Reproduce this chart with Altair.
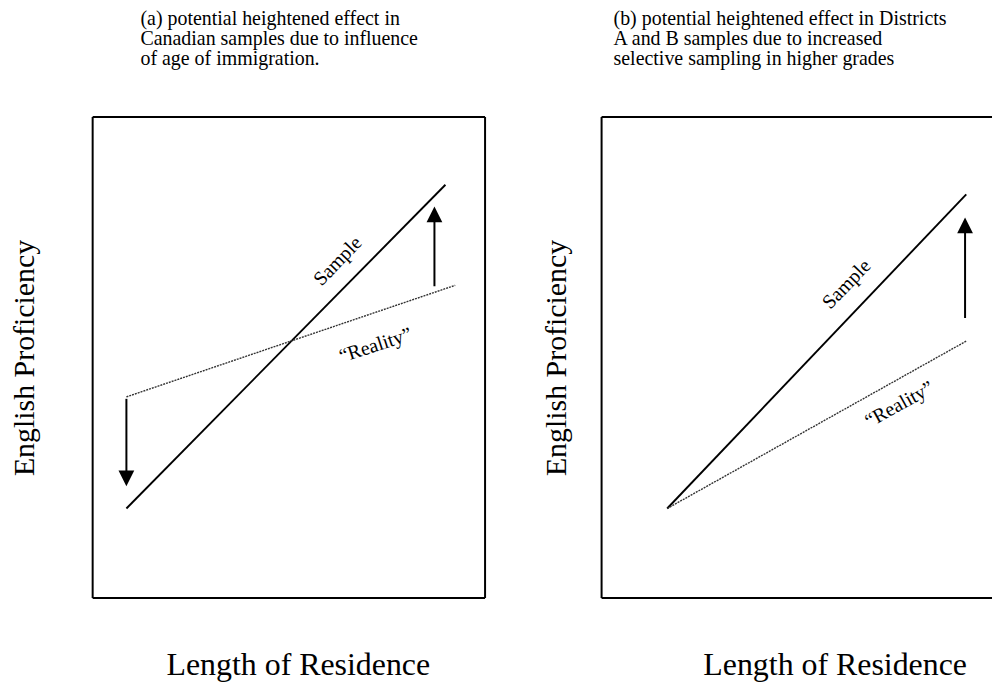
import altair as alt
import pandas as pd

FONT = "Liberation Serif"

# ---------------- Panel (a) ----------------
a_title = ["(a) potential heightened effect in",
           "Canadian samples due to influence",
           "of age of immigration."]
a_sample_x = [8.6, 89.9]
a_sample_y = [18.6, 85.9]
a_reality_x = [8.6, 92.4]
a_reality_y = [41.8, 65.0]
a_arrow_dir = ["down", "up"]
a_arrow_x = [8.6, 87.1]
a_arrow_from = [41.4, 64.8]
a_arrow_base = [26.3, 78.3]
a_arrow_tip = [23.2, 81.4]
a_label_text = ["Sample", "\u201cReality\u201d"]
a_label_x = [62.5, 72.1]
a_label_y = [70.0, 52.5]
a_label_angle = [314, 342]

# ---------------- Panel (b) ----------------
b_title = ["(b) potential heightened effect in Districts",
           "A and B samples due to increased",
           "selective sampling in higher grades"]
b_sample_x = [16.8, 93.4]
b_sample_y = [18.6, 83.9]
b_reality_x = [16.8, 93.4]
b_reality_y = [18.6, 53.4]
b_arrow_dir = ["up"]
b_arrow_x = [93.1]
b_arrow_from = [58.2]
b_arrow_base = [76.2]
b_arrow_tip = [79.1]
b_label_text = ["Sample", "\u201cReality\u201d"]
b_label_x = [62.8, 76.3]
b_label_y = [65.2, 40.2]
b_label_angle = [314, 331]

x_title = "Length of Residence"
y_title = "English Proficiency"

UP = "M0,0L-0.5,1L0.5,1Z"
DOWN = "M0,0L-0.5,-1L0.5,-1Z"


def panel(W, H, title, title_dx, sx, sy, rx, ry, adir, ax, afrom, abase, atip,
          ltext, lx, ly, langle, ytitle_pad, xtitle_x, right_border):
    xs = alt.Scale(domain=[0, 100], nice=False, zero=False)
    ys = alt.Scale(domain=[0, 100], nice=False, zero=False)
    xaxis = alt.Axis(title=x_title, labels=False, ticks=False, domain=False, grid=False,
                     titleFont=FONT, titleFontSize=32, titleFontWeight="normal",
                     titleColor="black", titlePadding=52, titleX=xtitle_x)
    yaxis = alt.Axis(title=y_title, labels=False, ticks=False, domain=False, grid=False,
                     titleFont=FONT, titleFontSize=30, titleFontWeight="normal",
                     titleColor="black", titlePadding=ytitle_pad)

    sample = pd.DataFrame({"x": sx, "y": sy})
    reality = pd.DataFrame({"x": rx, "y": ry})
    arrows = pd.DataFrame({"dir": adir, "x": ax, "y": afrom, "y2": abase, "tip": atip})
    labels = pd.DataFrame({"t": ltext, "x": lx, "y": ly, "ang": langle})

    enc = dict(x=alt.X("x:Q", scale=xs, axis=xaxis), y=alt.Y("y:Q", scale=ys, axis=yaxis))

    l_sample = alt.Chart(sample).mark_line(color="black", strokeWidth=1.9).encode(**enc)
    l_real = alt.Chart(reality).mark_line(color="#333333", strokeWidth=1.4,
                                          strokeDash=[2, 1]).encode(**enc)
    shaft = alt.Chart(arrows).mark_rule(color="black", strokeWidth=2).encode(
        **enc, y2="y2:Q")
    heads = []
    for d, path in (("up", UP), ("down", DOWN)):
        if d in adir:
            heads.append(alt.Chart(arrows).transform_filter(alt.datum.dir == d)
                         .mark_point(shape=path, size=1000, filled=True, color="black",
                                     opacity=1, strokeWidth=0)
                         .encode(x=alt.X("x:Q", scale=xs, axis=xaxis),
                                 y=alt.Y("tip:Q", scale=ys, axis=yaxis)))
    texts = []
    for i in range(len(ltext)):
        texts.append(alt.Chart(labels.iloc[[i]]).mark_text(
            font=FONT, fontSize=20, color="black", angle=langle[i],
            align="center", baseline="middle").encode(**enc, text="t:N"))

    frame = pd.DataFrame({"k": [0]})
    borders = [
        alt.Chart(frame).mark_rule(color="black", strokeWidth=2).encode(
            x=alt.value(0), x2=alt.value(W), y=alt.value(0)),
        alt.Chart(frame).mark_rule(color="black", strokeWidth=2).encode(
            x=alt.value(0), x2=alt.value(W), y=alt.value(H)),
        alt.Chart(frame).mark_rule(color="black", strokeWidth=2).encode(
            x=alt.value(0), y=alt.value(0), y2=alt.value(H)),
    ]
    if right_border:
        borders.append(alt.Chart(frame).mark_rule(color="black", strokeWidth=2).encode(
            x=alt.value(W), y=alt.value(0), y2=alt.value(H)))

    return alt.layer(l_sample, l_real, shaft, *heads, *texts, *borders).properties(
        width=W, height=H,
        title=alt.TitleParams(text=title, anchor="start", frame="group", dx=title_dx,
                              font=FONT, fontSize=20, fontWeight="normal",
                              color="black", lineHeight=20, offset=47),
    )


pa = panel(394, 483, a_title, 48, a_sample_x, a_sample_y, a_reality_x, a_reality_y,
           a_arrow_dir, a_arrow_x, a_arrow_from, a_arrow_base, a_arrow_tip,
           a_label_text, a_label_x, a_label_y, a_label_angle, 53, 206, True)
pb = panel(392, 483, b_title, 12, b_sample_x, b_sample_y, b_reality_x, b_reality_y,
           b_arrow_dir, b_arrow_x, b_arrow_from, b_arrow_base, b_arrow_tip,
           b_label_text, b_label_x, b_label_y, b_label_angle, 30, 234, False)

chart = alt.hconcat(pa, pb, spacing=56).properties(
    padding={"left": 2, "top": 0, "right": 0, "bottom": 0},
    background="white",
).configure_view(stroke=None)

chart.save("out.html", embed_options={"renderer": "svg", "actions": False})
